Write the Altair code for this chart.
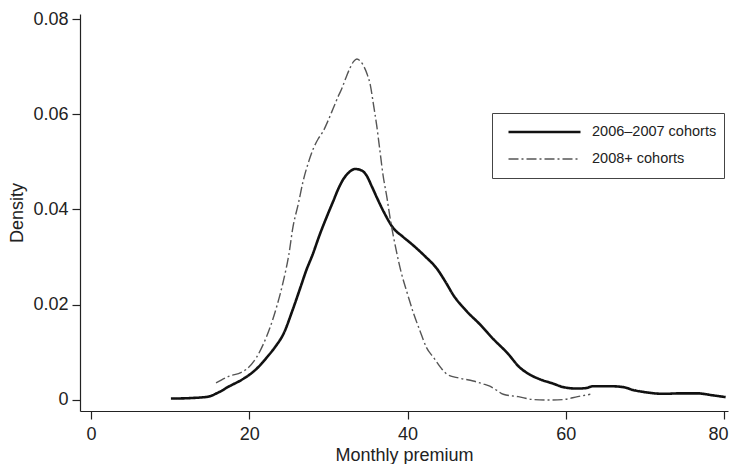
import altair as alt
import pandas as pd

# 2006-2007 cohorts (solid)
s1_x = [10.1, 12.5, 14.8, 16.0, 17.5, 19.0, 20.1, 21.2, 22.2, 23.3, 24.3, 25.5, 26.5, 27.2,
        28.0, 28.9, 29.8, 30.6, 31.3, 31.9, 32.6, 33.4, 34.2, 34.8, 35.5, 36.1, 37.0, 38.2,
        39.4, 40.7, 42.2, 43.7, 44.8, 45.8, 47.5, 49.2, 50.9, 52.6, 54.2, 55.5, 56.8, 58.3,
        59.7, 61.4, 62.5, 63.5, 65.5, 67.3, 68.5, 69.8, 72.4, 74.5, 76.6, 78.5, 80.2]
s1_y = [0.0003, 0.0004, 0.0007, 0.0015, 0.0029, 0.0042, 0.0054, 0.0070, 0.0089, 0.0112,
        0.0138, 0.0190, 0.0238, 0.0272, 0.0305, 0.0347, 0.0385, 0.0417, 0.0445, 0.0464,
        0.0478, 0.0485, 0.0482, 0.0472, 0.0448, 0.0426, 0.0395, 0.0361, 0.0343, 0.0325,
        0.0302, 0.0276, 0.0248, 0.0220, 0.0186, 0.0158, 0.0127, 0.0099, 0.0068, 0.0053,
        0.0043, 0.0035, 0.0027, 0.0024, 0.0025, 0.0029, 0.0029, 0.0027, 0.0021, 0.0017,
        0.0013, 0.0014, 0.0014, 0.0010, 0.0006]

# 2008+ cohorts (dash-dot)
s2_x = [15.8, 17.5, 19.0, 19.6, 20.9, 21.8, 22.6, 23.5, 24.3, 25.0, 25.5, 26.2, 26.8, 27.5,
        28.1, 28.7, 29.3, 30.0, 30.6, 31.2, 31.7, 32.2, 32.7, 33.2, 33.6, 34.0, 34.4, 34.9,
        35.3, 35.7, 36.1, 36.5, 36.9, 37.4, 37.8, 38.6, 39.2, 39.9, 40.7, 41.6, 42.4, 43.3,
        44.2, 45.0, 46.5, 48.3, 49.5, 50.4, 51.3, 52.1, 54.0, 55.9, 57.8, 59.7, 61.5, 63.1]
s2_y = [0.0036, 0.0050, 0.0058, 0.0064, 0.0089, 0.0118, 0.0151, 0.0198, 0.0249, 0.0305,
        0.0361, 0.0412, 0.0459, 0.0500, 0.0528, 0.0548, 0.0563, 0.0588, 0.0612, 0.0636,
        0.0654, 0.0676, 0.0696, 0.0711, 0.0716, 0.0712, 0.0703, 0.0684, 0.0661, 0.0620,
        0.0577, 0.0525, 0.0473, 0.0425, 0.0382, 0.0312, 0.0268, 0.0228, 0.0185, 0.0144,
        0.0110, 0.0089, 0.0068, 0.0054, 0.0046, 0.0040, 0.0034, 0.0029, 0.0020, 0.0012,
        0.0007, 0.0001, 0.0000, 0.0001, 0.0007, 0.0012]

series = ["2006\u20132007 cohorts", "2008+ cohorts"]
x_ticks = [0, 20, 40, 60, 80]
y_ticks = [0, 0.02, 0.04, 0.06, 0.08]

df = pd.concat([
    pd.DataFrame({"premium": s1_x, "density": s1_y, "series": series[0], "order": range(len(s1_x))}),
    pd.DataFrame({"premium": s2_x, "density": s2_y, "series": series[1], "order": range(len(s2_x))}),
])

FONT = "Liberation Sans"

chart = alt.Chart(df).mark_line(interpolate="monotone").encode(
    x=alt.X("premium:Q",
            scale=alt.Scale(domain=[-1.39, 80.5], nice=False, zero=False),
            axis=alt.Axis(values=x_ticks, format="d", title="Monthly premium",
                          tickSize=8, labelPadding=6, titlePadding=3,
                          labelOffset={"condition": {"test": "datum.value == 80", "value": -6}, "value": 0})),
    y=alt.Y("density:Q",
            scale=alt.Scale(domain=[-0.00231, 0.08105], nice=False, zero=False),
            axis=alt.Axis(values=y_ticks, format=".2~f", title="Density",
                          tickSize=8, labelPadding=4, titlePadding=6)),
    color=alt.Color("series:N", scale=alt.Scale(domain=series, range=["#111111", "#555555"]),
                    legend=alt.Legend(title=None, orient="none", legendX=412, legendY=99,
                                      symbolType="stroke", symbolSize=5184,
                                      clipHeight=24, rowPadding=3, padding=7,
                                      symbolOffset=8, labelOffset=10,
                                      labelFont=FONT, labelFontSize=14.5, labelColor="#222222",
                                      strokeColor="#444444")),
    strokeDash=alt.StrokeDash("series:N", scale=alt.Scale(domain=series, range=[[1, 0], [10, 3, 2, 3]])),
    strokeWidth=alt.StrokeWidth("series:N", scale=alt.Scale(domain=series, range=[2.6, 1.4])),
    order="order:Q",
).properties(
    width=648, height=397,
    autosize=alt.AutoSizeParams(type="none"),
    padding={"left": 72, "top": 6, "right": 1, "bottom": 53},
).configure_view(stroke=None).configure_axis(
    grid=False, domainColor="#222222", tickColor="#222222", domainWidth=1.2, tickWidth=1.2,
    labelFont=FONT, titleFont=FONT, labelFontSize=18, titleFontSize=18,
    titleFontWeight="normal", labelColor="#222222", titleColor="#222222",
)

chart.save("out.html", embed_options={"renderer": "svg", "actions": False})
